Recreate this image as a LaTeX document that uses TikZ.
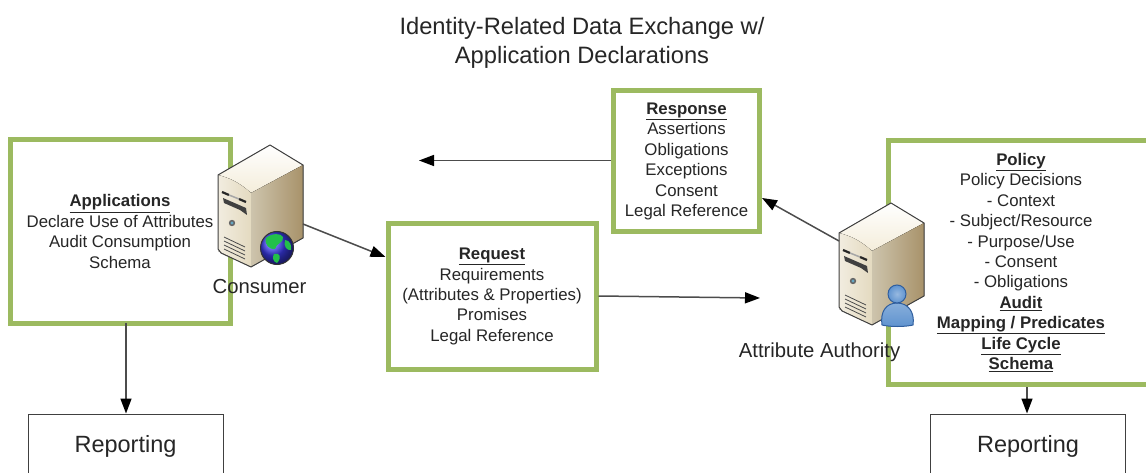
\documentclass[tikz,border=0pt]{standalone}
\usepackage{fontspec}
\setmainfont{Liberation Sans}
\usetikzlibrary{arrows.meta}

\definecolor{boxgreen}{HTML}{9CBA60}
\definecolor{inktext}{HTML}{262626}
\definecolor{srvtop}{HTML}{F4EDDA}
\definecolor{srvfront}{HTML}{E4DAC0}
\definecolor{srvside}{HTML}{A8926A}
\definecolor{personblue}{HTML}{5F93CF}
\definecolor{personedge}{HTML}{2F5E9E}
\definecolor{globeblue}{HTML}{3A3AE8}
\definecolor{globegreen}{HTML}{22C04A}

\tikzset{
  greenbox/.style={draw=boxgreen,line width=5pt,fill=white,align=center,text=inktext,font=\fontsize{16.8}{20.4}\selectfont},
  repbox/.style={draw=black!75,line width=1pt,fill=white,minimum width=195pt,minimum height=64pt,font=\fontsize{23.5}{28}\selectfont,text=inktext},
  srvlabel/.style={font=\fontsize{20.3}{24}\selectfont,text=inktext},
  flow/.style={draw=black!70,line width=1.5pt,-{Triangle[length=15pt,width=11pt,fill=black,color=black]}},
  server/.pic={
    \fill[top color=white,bottom color=srvtop] (0,0) -- (33,20) -- (-19,48) .. controls (-30,38) and (-40,33) .. (-52,30) -- cycle;
    \fill[left color=srvfront!50!white,right color=srvfront] (-52,30) .. controls (-40,33) and (-30,38) .. (-19,48) -- (-19,122) -- (-52,106) -- cycle;
    \fill[left color=srvfront!90!black,right color=srvside] (-19,48) -- (33,20) -- (33,93) -- (-19,122) -- cycle;
    \draw[black!75,line width=1pt,line join=round] (0,0) -- (33,20) -- (33,93) -- (-19,122) -- (-49,108) -- (-52,104) -- (-52,30) -- cycle;
    \draw[black!85,line width=2.2pt] (-48,47) -- (-41,50) (-31,54) -- (-24,57);
    \draw[black!35,line width=1.5pt] (-41,50) -- (-31,54);
    \fill[black!75] (-47,53) -- (-24,63) -- (-23,70) -- (-30,65) -- (-46,58) -- cycle;
    \fill[black!60] (-38,78) circle (3.2);
    \fill[cyan!50!gray] (-38,78) circle (1.6);
    \foreach \v in {0,4,8,12}
      \draw[black!70,line width=.8pt] (-46,92+\v) -- (-25,102+\v);
  },
}

\begin{document}
\begin{tikzpicture}[x=1pt,y=-1pt]
    \clip (0,0) rectangle (1146,473);

    \node[font=\fontsize{23.7}{29}\selectfont,align=center,text=inktext] (Title) at (582,42.5) {Identity-Related Data Exchange w/\\Application Declarations};

    \node[greenbox,minimum width=220pt,minimum height=183pt] (Apps) at (120,231.5)
      {\underline{\textbf{Applications}}\\Declare Use of Attributes\\Audit Consumption\\Schema};
    \node[greenbox,minimum width=208pt,minimum height=146pt] (Req) at (492,296.5)
      {\underline{\textbf{Request}}\\Requirements\\(Attributes \& Properties)\\Promises\\Legal Reference};
    \node[greenbox,minimum width=146pt,minimum height=141pt] (Resp) at (686.5,161.5)
      {\underline{\textbf{Response}}\\Assertions\\Obligations\\Exceptions\\Consent\\Legal Reference};
    \node[greenbox,minimum width=266pt,minimum height=244pt] (Policy) at (1021,262.5)
      {\underline{\textbf{Policy}}\\Policy Decisions\\- Context\\- Subject/Resource\\- Purpose/Use\\- Consent\\- Obligations\\\underline{\textbf{Audit}}\\\underline{\textbf{Mapping / Predicates}}\\\underline{\textbf{Life Cycle}}\\\underline{\textbf{Schema}}};

    \node[repbox] (RepA) at (125.5,446) {Reporting};
    \node[repbox] (RepB) at (1028,446) {Reporting};

    % servers
    \pic at (270,145) {server};
    \pic at (891,203) {server};

    \shade[ball color=globeblue] (277,248) circle (16.5);
    \draw[black!80,line width=1pt] (277,248) circle (16.5);
    \fill[globegreen] (266,238) .. controls (272,233) and (281,233) .. (283,237) .. controls (284,243) and (276,243) .. (275,249) .. controls (270,250) and (264,245) .. (266,238) -- cycle;
    \fill[globegreen] (285,240) .. controls (290,240) and (292,246) .. (291,250) .. controls (287,251) and (283,246) .. (285,240) -- cycle;
    \fill[globegreen] (274,254) .. controls (280,252) and (282,258) .. (277,263) .. controls (273,262) and (272,257) .. (274,254) -- cycle;

    \shade[top color=personblue!75!white,bottom color=personblue,draw=personedge,line width=1pt] (882,325) .. controls (880,312) and (886,303) .. (897,303) .. controls (908,303) and (915,312) .. (913,325) .. controls (905,327) and (890,327) .. (882,325) -- cycle;
    \shade[inner color=personblue!65!white,outer color=personblue,draw=personedge,line width=1pt] (897,294) circle (9);

    \node[srvlabel] (ConsumerLabel) at (259.5,287) {Consumer};
    \node[srvlabel] (AuthLabel) at (819.5,352.5) {Attribute Authority};

    \coordinate (SrvOut) at (303,224);
    \coordinate (SrvAuth) at (839,241);
    \coordinate (ToAuth) at (760,298);
    \coordinate (ToCons) at (419,160.5);

    \draw[flow] (SrvOut) -- (Req.west |- 0,257);
    \draw[flow] (Req.east |- 0,296) -- (ToAuth);
    \draw[flow] (SrvAuth) -- (Resp.east |- 0,198);
    \draw[flow] (Resp.west |- ToCons) -- (ToCons);
    \draw[flow] (126,323) -- (RepA.north -| 126,0);
    \draw[flow] (Policy.south -| 1027,0) -- (RepB.north -| 1027,0);
  \end{tikzpicture}
\end{document}
